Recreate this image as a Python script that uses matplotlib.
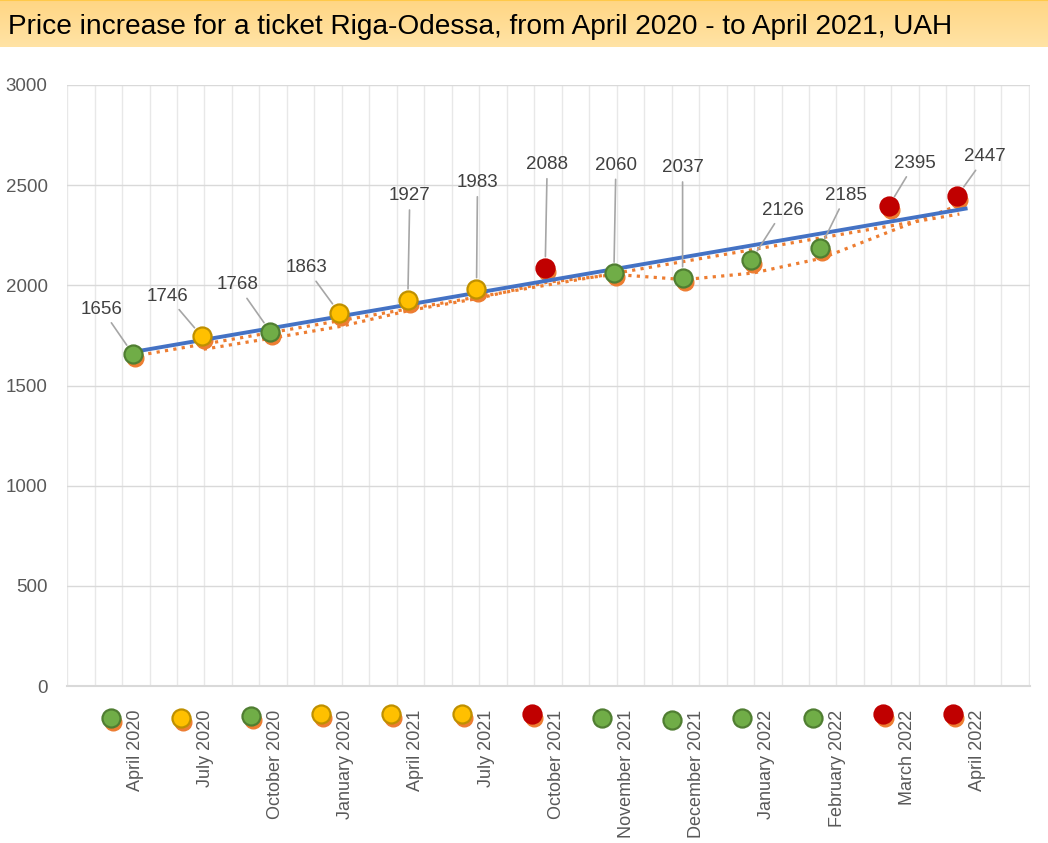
import matplotlib.pyplot as plt
import numpy as np
from matplotlib.transforms import offset_copy

months = ['April 2020', 'July 2020', 'October 2020', 'January 2020', 'April 2021',
          'July 2021', 'October 2021', 'November 2021', 'December 2021',
          'January 2022', 'February 2022', 'March 2022', 'April 2022']
prices = [1656, 1746, 1768, 1863, 1927, 1983, 2088, 2060, 2037, 2126, 2185, 2395, 2447]
status = ['g', 'y', 'g', 'y', 'y', 'y', 'r', 'g', 'g', 'g', 'g', 'r', 'r']
# marker row drawn under the axis
row_values = [-160, -160, -150, -140, -140, -140, -140, -160, -170, -160, -160, -140, -140]
row_shadow = [True, True, True, True, True, True, True, False, False, False, False, True, True]

# label offsets in pixels (dx, dy) from each point
label_offsets = [(-31, 45), (-34, 40), (-33, 47), (-33, 45), (2, 104), (1, 106), (2, 103),
                 (2, 108), (0, 110), (32, 50), (26, 53), (26, 43), (28, 39)]

face = {'g': '#70AD47', 'y': '#FFC000', 'r': '#C00000'}
edge = {'g': '#507E32', 'y': '#BF9000', 'r': '#C00000'}
orange = '#ED7D31'
blue = '#4472C4'

plt.rcParams['font.family'] = ['Liberation Sans', 'DejaVu Sans']

fig = plt.figure(figsize=(10.48, 8.43), dpi=100)

# title banner
tax = fig.add_axes([0, 1 - 47 / 843, 1, 47 / 843])
grad = np.linspace(0, 1, 50).reshape(-1, 1)
tax.imshow(grad, aspect='auto', cmap=plt.matplotlib.colors.LinearSegmentedColormap.from_list(
    'ban', ['#FFD684', '#FFE3A5']), extent=[0, 1, 0, 1])
tax.set_xlim(0, 1)
tax.set_ylim(0, 1)
tax.axis('off')
tax.axhline(0.99, color='#FFC94A', lw=1.5)
tax.text(0.008, 0.42, 'Price increase for a ticket Riga-Odessa, from April 2020 - to April 2021, UAH',
         fontsize=20.2, va='center', ha='left', color='black')

ax = fig.add_axes([0.064, 0.1862, 0.919, 0.713])
x = np.arange(len(prices))

shadow = offset_copy(ax.transData, fig=fig, x=2, y=-4, units='dots')

# orange series (markers only) and its trendlines
ax.plot(x, prices, ls='none', marker='o', ms=12, color=orange, transform=shadow, zorder=3)
coef = np.polyfit(x, prices, 1)
xt = np.array([-0.05, 12.0])
ax.plot(xt, np.polyval(coef, xt), color=orange, ls=':', lw=2.3, transform=shadow, zorder=3)
ma = np.convolve(prices, [0.5, 0.5], mode='valid')
ax.plot(x[1:], ma, color=orange, ls=':', lw=2.3, transform=shadow, zorder=3)

# blue linear trendline
xb = np.array([-0.05, 12.12])
ax.plot(xb, np.polyval(coef, xb), color=blue, lw=2.8, zorder=4)

# coloured markers
for i, v in enumerate(prices):
    s = status[i]
    ax.plot(x[i], v, marker='o', ms=13, mfc=face[s], mec=edge[s], mew=1.6, zorder=5)
    dx, dy = label_offsets[i]
    ax.annotate(str(v), (x[i], v), xytext=(dx, dy), textcoords='offset pixels',
                ha='center', va='center', fontsize=13.5, color='#404040',
                arrowprops=dict(arrowstyle='-', color='#A6A6A6', lw=1.2,
                                shrinkA=2, shrinkB=8), zorder=6)

# tick positions and marker row below the axis
tpos = x * 1.022 + 0.03
row_x = tpos - 0.357
for i in range(len(prices)):
    s = status[i]
    if row_shadow[i]:
        ax.plot(row_x[i], row_values[i], marker='o', ms=12, color=orange,
                transform=shadow, clip_on=False, zorder=3)
    ax.plot(row_x[i], row_values[i], marker='o', ms=13, mfc=face[s], mec=edge[s],
            mew=1.6, clip_on=False, zorder=5)

ax.set_xlim(-0.96, 13.06)
ax.set_ylim(0, 3000)
ax.set_yticks(np.arange(0, 3001, 500))
ax.set_xticks(tpos)
ax.set_xticklabels(months, rotation=90, fontsize=13, color='#595959')
ax.set_xticks(np.arange(-0.96, 13.1, 0.4), minor=True)
ax.tick_params(axis='x', which='both', length=0, pad=17)
ax.tick_params(axis='y', length=0, pad=14, labelsize=13.5, labelcolor='#595959')

ax.grid(axis='y', color='#D9D9D9', lw=1)
ax.grid(axis='x', which='minor', color='#E8E8E8', lw=1)
ax.grid(axis='x', which='major', visible=False)
ax.set_axisbelow(True)
for sp in ['top', 'right', 'left']:
    ax.spines[sp].set_visible(False)
ax.spines['bottom'].set_color('#D9D9D9')
ax.spines['bottom'].set_linewidth(1.5)

plt.savefig('out.png', dpi=100)
